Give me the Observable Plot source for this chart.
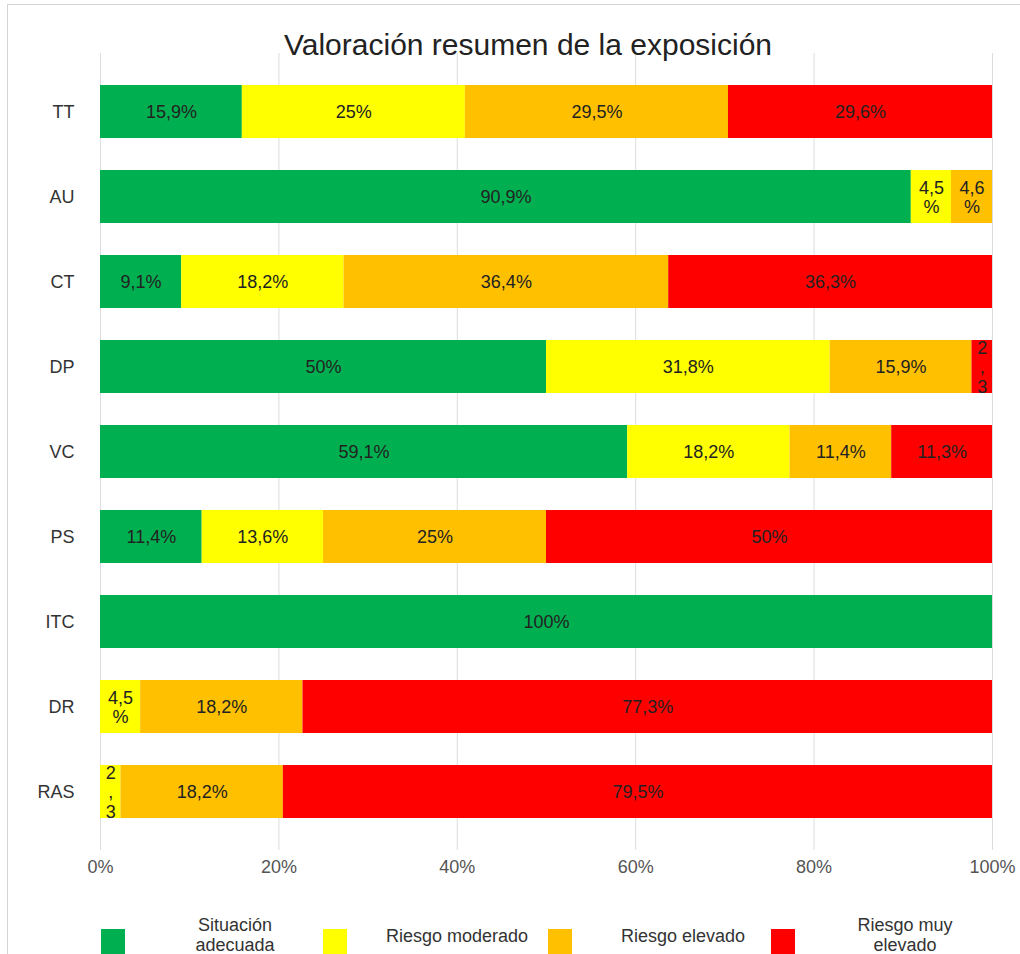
<!DOCTYPE html>
<html>
<head>
<meta charset="utf-8">
<script src="https://cdn.jsdelivr.net/npm/d3@7"></script>
<script src="https://cdn.jsdelivr.net/npm/@observablehq/plot@0.6"></script>
<style>
  html, body { margin: 0; padding: 0; background: #fff; }
  body { width: 1020px; height: 954px; position: relative; overflow: hidden; font-family: "Liberation Sans", Arial, sans-serif; }
  #frame { position: absolute; left: 7px; top: 4px; width: 1020px; height: 960px; border-left: 1px solid #d4d4d4; border-top: 1px solid #d4d4d4; }
  #title { position: absolute; left: 0; width: 1056px; top: 28px; text-align: center; font-size: 30px; color: #222; line-height: 34px; }
  #chart { position: absolute; left: 0; top: 0; }
  .lg-sw { position: absolute; top: 929px; width: 24px; height: 30px; }
  .lg-tx { position: absolute; font-size: 18px; color: #333; text-align: center; line-height: 20px; transform: translateX(-50%); white-space: nowrap; }
</style>
</head>
<body>
<div id="frame"></div>
<div id="chart"></div>
<div id="title">Valoración resumen de la exposición</div>
<div id="legend"></div>
<script>
const categories = ["TT", "AU", "CT", "DP", "VC", "PS", "ITC", "DR", "RAS"];
const seriesNames = ["Situación adecuada", "Riesgo moderado", "Riesgo elevado", "Riesgo muy elevado"];
const colors = ["#00B050", "#FFFF00", "#FFC000", "#FF0000"];
const adecuada  = [15.9, 90.9, 9.1, 50, 59.1, 11.4, 100, 0, 0];
const moderado  = [25, 4.5, 18.2, 31.8, 18.2, 13.6, 0, 4.5, 2.3];
const elevado   = [29.5, 4.6, 36.4, 15.9, 11.4, 25, 0, 18.2, 18.2];
const muyElevado = [29.6, 0, 36.3, 2.3, 11.3, 50, 0, 77.3, 79.5];
// labels shown inside the segments (narrow ones wrap as in the original)
const lblAdecuada  = ["15,9%", "90,9%", "9,1%", "50%", "59,1%", "11,4%", "100%", "", ""];
const lblModerado  = ["25%", "4,5\n%", "18,2%", "31,8%", "18,2%", "13,6%", "", "4,5\n%", "2\n,\n3"];
const lblElevado   = ["29,5%", "4,6\n%", "36,4%", "15,9%", "11,4%", "25%", "", "18,2%", "18,2%"];
const lblMuyElevado = ["29,6%", "", "36,3%", "2\n,\n3", "11,3%", "50%", "", "77,3%", "79,5%"];
const xTicks = [0, 20, 40, 60, 80, 100];

const seriesVals = [adecuada, moderado, elevado, muyElevado];
const seriesLbls = [lblAdecuada, lblModerado, lblElevado, lblMuyElevado];
const rows = [];
categories.forEach((c, i) => {
  seriesNames.forEach((s, j) => {
    rows.push({cat: c, serie: s, value: seriesVals[j][i], label: seriesLbls[j][i]});
  });
});

const chart = Plot.plot({
  width: 1020,
  height: 885,
  marginTop: 53,
  marginBottom: 35,
  marginLeft: 100,
  marginRight: 28,
  style: {fontFamily: "'Liberation Sans', Arial, sans-serif", background: "transparent"},
  x: {domain: [0, 100], ticks: xTicks, tickFormat: d => d + "%", tickSize: 0, tickPadding: 10, label: null},
  y: {domain: categories, padding: 0.376, tickSize: 0, tickPadding: 26, label: null},
  color: {domain: seriesNames, range: colors},
  marks: [
    Plot.ruleX(xTicks, {stroke: "#dcdcdc", strokeWidth: 1}),
    Plot.barX(rows, Plot.stackX({x: "value", y: "cat", fill: "serie", order: null})),
    Plot.text(rows, Plot.stackX({x: "value", y: "cat", text: "label", order: null, fill: "#222", fontSize: 18, lineHeight: 1.08}))
  ]
});
chart.querySelectorAll("g[aria-label='x-axis tick label']").forEach(g => { g.setAttribute("font-size", "18"); g.setAttribute("fill", "#555"); });
chart.querySelectorAll("g[aria-label='x-axis tick label'] text").forEach(t => { t.setAttribute("fill", "#555"); t.style.fontSize = "18px"; });
chart.querySelectorAll("g[aria-label='y-axis tick label']").forEach(g => { g.setAttribute("font-size", "18"); g.setAttribute("fill", "#333"); });
chart.querySelectorAll("g[aria-label='y-axis tick label'] text").forEach(t => { t.setAttribute("fill", "#333"); t.style.fontSize = "18px"; });
document.getElementById("chart").appendChild(chart);

// legend
const legend = document.getElementById("legend");
const swX = [101, 323, 548, 771];
const txX = [235, 457, 683, 905];
const txLines = [["Situación", "adecuada"], ["Riesgo moderado"], ["Riesgo elevado"], ["Riesgo muy", "elevado"]];
seriesNames.forEach((s, j) => {
  const sw = document.createElement("div");
  sw.className = "lg-sw";
  sw.style.left = swX[j] + "px";
  sw.style.background = colors[j];
  legend.appendChild(sw);
  const tx = document.createElement("div");
  tx.className = "lg-tx";
  tx.style.left = txX[j] + "px";
  tx.style.top = (txLines[j].length === 2 ? 915 : 926) + "px";
  tx.innerHTML = txLines[j].join("<br>");
  legend.appendChild(tx);
});
</script>
</body>
</html>
